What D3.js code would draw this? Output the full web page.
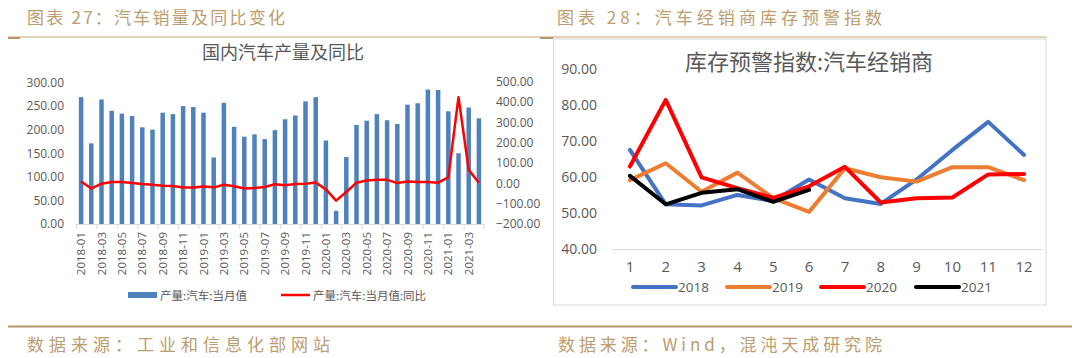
<!DOCTYPE html>
<html><head><meta charset="utf-8">
<script src="https://cdn.jsdelivr.net/npm/d3@7"></script>
<style>
html,body{margin:0;padding:0;background:#fff;}
svg{display:block;}
text{font-family:"Open Sans","Noto Sans CJK SC",sans-serif;}
.cjk{font-family:"Noto Sans CJK SC",sans-serif;}
</style></head>
<body>
<svg id="chart" width="1080" height="358"></svg>
<script>
// ---------- data ----------
const months = ["2018-01","2018-02","2018-03","2018-04","2018-05","2018-06","2018-07","2018-08","2018-09","2018-10","2018-11","2018-12",
"2019-01","2019-02","2019-03","2019-04","2019-05","2019-06","2019-07","2019-08","2019-09","2019-10","2019-11","2019-12",
"2020-01","2020-02","2020-03","2020-04","2020-05","2020-06","2020-07","2020-08","2020-09","2020-10","2020-11","2020-12",
"2021-01","2021-02","2021-03","2021-04"];
const production = [269,171,264,240,234,229,205,200,236,233,250,248,
236,141,257,206,185,190,180,199,222,230,260,269,
177,28,142,210,219,233,220,212,253,256,285,284,
239,150,247,224];
const productionYoY = [9,-26,-2,6,6,1,-4,-7,-12,-13,-21,-21,
-16,-20,-7,-15,-26,-23,-18,-5,-10,-4,-2,4,
-30,-85,-43,3,14,17,17,1,9,6,6,3,
29,423,66,3];
const leftYTicks = [0,50,100,150,200,250,300];
const rightYTicks = [-200,-100,0,100,200,300,400,500];

const dealerMonths = [1,2,3,4,5,6,7,8,9,10,11,12];
const idx2018 = [67.6,52.5,52.2,55.1,53.4,59.4,54.2,52.6,59.4,67.6,75.4,66.2];
const idx2019 = [59.2,63.9,56.0,61.3,54.2,50.4,62.5,60.0,58.8,62.8,62.8,59.2];
const idx2020 = [63.0,81.5,60.0,57.0,54.3,57.5,62.9,53.0,54.2,54.4,60.8,60.9];
const idx2021 = [60.4,52.5,55.7,56.7,53.2,56.5];
const dealerYTicks = [40,50,60,70,80,90];
const dealerSeries = [
  {name:"2018", values:idx2018, color:"#4472C4"},
  {name:"2019", values:idx2019, color:"#ED7D31"},
  {name:"2020", values:idx2020, color:"#FF0000"},
  {name:"2021", values:idx2021, color:"#000000"}
];

const gold = "#bb9d6f";
const svg = d3.select("#chart");

// ---------- frame / titles ----------
svg.append("line").attr("x1",8).attr("x2",1047).attr("y1",37).attr("y2",37).attr("stroke","#d8c5a3").attr("stroke-width",1.5);
svg.append("line").attr("x1",8).attr("x2",20).attr("y1",38).attr("y2",38).attr("stroke","#b39566").attr("stroke-width",2);
svg.append("line").attr("x1",540).attr("x2",553).attr("y1",38).attr("y2",38).attr("stroke","#b39566").attr("stroke-width",2);
svg.append("line").attr("x1",8).attr("x2",1072).attr("y1",326.5).attr("y2",326.5).attr("stroke","#b39566").attr("stroke-width",2);

function goldText(x,y,str,len){
  svg.append("text").attr("class","cjk").attr("x",x).attr("y",y).attr("fill",gold)
    .attr("font-size",17).attr("dominant-baseline","central")
    .attr("textLength",len).attr("lengthAdjust","spacing").text(str);
}
goldText(27,16,"图表 27：汽车销量及同比变化",258);
goldText(557,16,"图表 28：汽车经销商库存预警指数",325);
goldText(27,343,"数据来源：工业和信息化部网站",303);
goldText(558,343,"数据来源：Wind，混沌天成研究院",324);

// right panel border
svg.append("rect").attr("x",553.5).attr("y",39).attr("width",492.5).attr("height",266)
  .attr("fill","none").attr("stroke","#d9d9d9").attr("stroke-width",1);

// ---------- left chart ----------
const gray = "#595959";
const xL = d3.scaleBand().domain(months).range([76,484]).paddingInner(0.56).paddingOuter(0.28);
const yL = d3.scaleLinear().domain([0,300]).range([224,82.5]);
const yR = d3.scaleLinear().domain([-200,500]).range([224,81.5]);

svg.append("text").attr("class","cjk").attr("x",283).attr("y",51).attr("text-anchor","middle")
  .attr("dominant-baseline","central").attr("font-size",18).attr("fill",gray).text("国内汽车产量及同比");

const gLA = svg.append("g").attr("transform","translate(70,0)")
  .call(d3.axisLeft(yL).tickValues(leftYTicks).tickFormat(d3.format(".2f")).tickSize(0).tickPadding(6));
gLA.select(".domain").remove();
gLA.selectAll("text").attr("font-size",12).attr("fill",gray);

const gRA = svg.append("g").attr("transform","translate(490,0)")
  .call(d3.axisRight(yR).tickValues(rightYTicks).tickFormat(d3.format(".2f")).tickSize(0).tickPadding(6));
gRA.select(".domain").remove();
gRA.selectAll("text").attr("font-size",12).attr("fill",gray);

svg.append("g").selectAll("rect").data(production).join("rect")
  .attr("x",(d,i)=>xL(months[i])).attr("width",xL.bandwidth())
  .attr("y",d=>yL(d)).attr("height",d=>yL(0)-yL(d)).attr("fill","#4F81BD");

// x axis
const step = xL.step();
svg.append("line").attr("x1",76).attr("x2",484).attr("y1",224.5).attr("y2",224.5).attr("stroke","#d9d9d9");
svg.append("g").selectAll("line").data(months.filter((m,i)=>i%2===0)).join("line")
  .attr("x1",d=>xL(d)-step*0.28+0.5).attr("x2",d=>xL(d)-step*0.28+0.5)
  .attr("y1",224).attr("y2",229).attr("stroke","#d9d9d9");
svg.append("line").attr("x1",484).attr("x2",484).attr("y1",224).attr("y2",229).attr("stroke","#d9d9d9");
const gX = svg.append("g").attr("transform","translate(0,224)")
  .call(d3.axisBottom(xL).tickValues(months.filter((m,i)=>i%2===0)).tickSize(0));
gX.select(".domain").remove();
gX.selectAll("text").attr("font-size",11.5).attr("fill",gray)
  .attr("transform","rotate(-90)").attr("text-anchor","end")
  .attr("x",-8).attr("y",0).attr("dy","0.35em");

svg.append("path").datum(productionYoY)
  .attr("d",d3.line().x((d,i)=>xL(months[i])+xL.bandwidth()/2).y(d=>yR(d)))
  .attr("fill","none").attr("stroke","#FF0000").attr("stroke-width",2.5).attr("stroke-linejoin","round");

// left legend
svg.append("rect").attr("x",128).attr("y",292).attr("width",29).attr("height",6).attr("fill","#4F81BD");
svg.append("text").attr("class","cjk").attr("x",160).attr("y",295).attr("dominant-baseline","central")
  .attr("font-size",11.5).attr("fill",gray).text("产量:汽车:当月值");
svg.append("line").attr("x1",281).attr("x2",310).attr("y1",295).attr("y2",295).attr("stroke","#FF0000").attr("stroke-width",2.5);
svg.append("text").attr("class","cjk").attr("x",313).attr("y",295).attr("dominant-baseline","central")
  .attr("font-size",11.5).attr("fill",gray).text("产量:汽车:当月值:同比");

// ---------- right chart ----------
const xD = d3.scaleBand().domain(dealerMonths).range([612,1042]);
const yD = d3.scaleLinear().domain([40,90]).range([249.3,69.3]);

svg.append("text").attr("class","cjk").attr("x",809).attr("y",60).attr("text-anchor","middle")
  .attr("dominant-baseline","central").attr("font-size",22).attr("fill",gray).text("库存预警指数:汽车经销商");

const gDA = svg.append("g").attr("transform","translate(604,0)")
  .call(d3.axisLeft(yD).tickValues(dealerYTicks).tickFormat(d3.format(".2f")).tickSize(0).tickPadding(7));
gDA.select(".domain").remove();
gDA.selectAll("text").attr("font-size",14).attr("fill",gray);

svg.append("line").attr("x1",612).attr("x2",1042).attr("y1",249.5).attr("y2",249.5).attr("stroke","#d9d9d9");
const gDX = svg.append("g").attr("transform","translate(0,258)")
  .call(d3.axisBottom(xD).tickSize(0).tickPadding(0));
gDX.select(".domain").remove();
gDX.selectAll("text").attr("font-size",15).attr("fill",gray).attr("dy","0.9em");

const lineD = d3.line().x((d,i)=>xD(dealerMonths[i])+xD.bandwidth()/2).y(d=>yD(d));
svg.append("g").selectAll("path").data(dealerSeries).join("path")
  .attr("d",s=>lineD(s.values)).attr("fill","none").attr("stroke",s=>s.color)
  .attr("stroke-width",4).attr("stroke-linejoin","round").attr("stroke-linecap","round");

// right legend
const legX = [633,727,821,916];
const lg = svg.append("g").selectAll("g").data(dealerSeries).join("g")
  .attr("transform",(s,i)=>`translate(${legX[i]},287)`);
lg.append("line").attr("x1",0).attr("x2",43).attr("y1",0).attr("y2",0)
  .attr("stroke",s=>s.color).attr("stroke-width",4).attr("stroke-linecap","round");
lg.append("text").attr("x",45).attr("y",0).attr("dominant-baseline","central")
  .attr("font-size",13.5).attr("fill",gray).text(s=>s.name);
</script>
</body></html>
